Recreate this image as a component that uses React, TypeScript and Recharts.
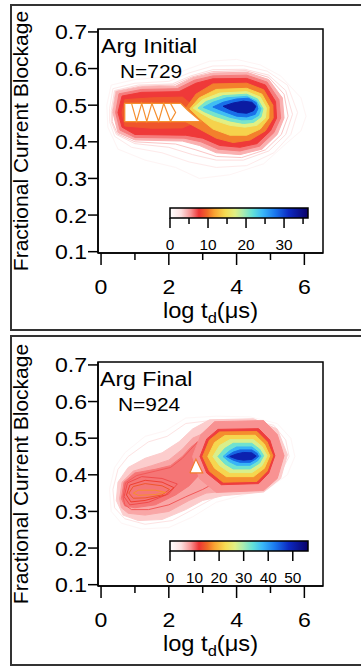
import React from 'react';
import { ScatterChart, Scatter, XAxis, YAxis, ReferenceArea } from 'recharts';

type Pt = [number, number];
type Kind = 'line' | 'fill' | 'hole' | 'stripes';

const FONT = '"Liberation Sans", Arial, Helvetica, sans-serif';
const TEXT_SX = 1.1;

// ---------- axes ----------
const xTicks = [0, 1, 2, 3, 4, 5, 6];
const xLabelTicks = [0, 2, 4, 6];
const yTicks = [0.1, 0.2, 0.3, 0.4, 0.5, 0.6, 0.7];
const X_DOMAIN: [number, number] = [-0.09, 6.55];
const Y_DOMAIN: [number, number] = [0.0964, 0.708];

// ---------- colour map (fraction of colour-bar max -> colour) ----------
const cmapPositions = [0, 0.08, 0.15, 0.21, 0.27, 0.32, 0.4, 0.47, 0.53, 0.6, 0.67, 0.76, 0.86, 1];
const cmapColors = ['#ffffff', '#fde0e0', '#f89494', '#ee3434', '#f06a28', '#f8a232', '#f6dc52', '#e2f084', '#aaecb0', '#62e0d8', '#3ab8f8', '#1a78ee', '#0c2ac2', '#0a0068'];

// ---------- Arg Initial ----------
const initialTitle = 'Arg Initial';
const initialCount = 'N=729';
const initialColorMax = 36.3;
const initialColorTicks = [0, 5, 10, 15, 20, 25, 30, 35];
const initialColorLabels = [0, 10, 20, 30];

const initialLine1: Pt[] = [[0.17, 0.5], [0.3, 0.555], [1.0, 0.57], [2.0, 0.578], [2.6, 0.6], [3.2, 0.62], [4.0, 0.625], [4.7, 0.61], [5.3, 0.58], [5.9, 0.52], [6.05, 0.47], [5.9, 0.43], [5.4, 0.39], [4.8, 0.34], [3.8, 0.31], [2.9, 0.3], [2.2, 0.33], [1.3, 0.35], [0.5, 0.38], [0.2, 0.44]];
const initialLine2: Pt[] = [[0.25, 0.49], [0.35, 0.545], [1.0, 0.56], [2.0, 0.565], [2.6, 0.588], [3.3, 0.607], [4.2, 0.608], [4.9, 0.593], [5.5, 0.555], [5.8, 0.48], [5.6, 0.42], [5.1, 0.37], [4.3, 0.335], [3.4, 0.33], [2.6, 0.345], [1.8, 0.37], [0.9, 0.385], [0.4, 0.415], [0.25, 0.455]];
const initialLine3: Pt[] = [[0.3, 0.485], [0.4, 0.54], [1.1, 0.555], [2.1, 0.558], [2.65, 0.58], [3.3, 0.597], [4.25, 0.598], [4.95, 0.582], [5.45, 0.54], [5.65, 0.475], [5.45, 0.42], [4.95, 0.375], [4.2, 0.35], [3.4, 0.35], [2.7, 0.365], [2.0, 0.385], [1.0, 0.395], [0.45, 0.42], [0.3, 0.455]];
const initialLine4: Pt[] = [[0.33, 0.482], [0.43, 0.538], [1.15, 0.552], [2.15, 0.555], [2.68, 0.577], [3.3, 0.592], [4.28, 0.594], [4.95, 0.576], [5.4, 0.53], [5.52, 0.47], [5.32, 0.42], [4.85, 0.378], [4.15, 0.357], [3.4, 0.36], [2.8, 0.378], [2.2, 0.394], [1.0, 0.4], [0.48, 0.422], [0.33, 0.455]];
const initialFill1: Pt[] = [[0.35, 0.48], [0.45, 0.537], [1.2, 0.55], [2.2, 0.552], [2.7, 0.575], [3.3, 0.588], [4.3, 0.59], [4.95, 0.57], [5.35, 0.52], [5.4, 0.465], [5.2, 0.42], [4.75, 0.38], [4.1, 0.365], [3.4, 0.37], [2.9, 0.39], [2.4, 0.402], [1.0, 0.405], [0.5, 0.425]];
const initialFill2: Pt[] = [[0.43, 0.48], [0.53, 0.531], [1.2, 0.543], [2.25, 0.545], [2.75, 0.568], [3.3, 0.58], [4.3, 0.582], [4.9, 0.563], [5.25, 0.515], [5.3, 0.465], [5.1, 0.425], [4.68, 0.388], [4.1, 0.375], [3.45, 0.38], [2.95, 0.4], [2.45, 0.41], [1.0, 0.412], [0.56, 0.432]];
const initialFill3: Pt[] = [[0.5, 0.48], [0.62, 0.525], [1.2, 0.535], [2.3, 0.537], [2.8, 0.56], [3.3, 0.572], [4.3, 0.573], [4.85, 0.555], [5.15, 0.51], [5.18, 0.465], [5.0, 0.43], [4.6, 0.395], [4.1, 0.385], [3.5, 0.39], [3.0, 0.41], [2.5, 0.418], [1.0, 0.42], [0.62, 0.44]];
const initialFill4: Pt[] = [[0.62, 0.48], [0.7, 0.515], [1.5, 0.52], [2.4, 0.522], [2.7, 0.5], [2.7, 0.45], [2.4, 0.438], [1.5, 0.437], [0.7, 0.443]];
const initialFill5: Pt[] = [[2.45, 0.485], [2.8, 0.53], [3.3, 0.558], [4.3, 0.56], [4.8, 0.542], [5.07, 0.5], [5.08, 0.465], [4.85, 0.43], [4.4, 0.405], [3.9, 0.398], [3.4, 0.41], [2.9, 0.435], [2.5, 0.455]];
const initialHole: Pt[] = [[0.7, 0.455], [0.7, 0.505], [2.35, 0.505], [2.55, 0.487], [2.95, 0.455]];
const initialHoleStripes: Pt[] = [[0.9, 0.505], [1.05, 0.456], [1.2, 0.505], [1.35, 0.456], [1.5, 0.505], [1.7, 0.456], [1.85, 0.505], [2.05, 0.456], [2.2, 0.48], [2.05, 0.505]];
const initialFill6: Pt[] = [[2.62, 0.49], [2.9, 0.52], [3.4, 0.543], [4.3, 0.546], [4.75, 0.53], [4.96, 0.495], [4.95, 0.465], [4.7, 0.435], [4.3, 0.418], [3.8, 0.418], [3.3, 0.435], [2.9, 0.465]];
const initialFill7: Pt[] = [[2.72, 0.492], [3.0, 0.515], [3.5, 0.533], [4.3, 0.537], [4.7, 0.522], [4.88, 0.492], [4.85, 0.465], [4.6, 0.445], [4.25, 0.44], [3.8, 0.445], [3.3, 0.46], [2.95, 0.478]];
const initialFill8: Pt[] = [[2.86, 0.492], [3.1, 0.51], [3.6, 0.526], [4.3, 0.53], [4.62, 0.517], [4.78, 0.49], [4.72, 0.468], [4.5, 0.453], [4.2, 0.45], [3.8, 0.457], [3.35, 0.47], [3.05, 0.482]];
const initialFill9: Pt[] = [[3.02, 0.494], [3.3, 0.508], [3.7, 0.52], [4.3, 0.524], [4.58, 0.512], [4.72, 0.49], [4.65, 0.472], [4.45, 0.461], [4.15, 0.46], [3.8, 0.467], [3.4, 0.48]];
const initialFill10: Pt[] = [[3.3, 0.495], [3.6, 0.508], [4.0, 0.517], [4.35, 0.519], [4.58, 0.507], [4.63, 0.49], [4.55, 0.475], [4.3, 0.468], [4.0, 0.47], [3.65, 0.482]];
const initialFill11: Pt[] = [[3.6, 0.497], [3.9, 0.506], [4.2, 0.511], [4.45, 0.508], [4.57, 0.497], [4.5, 0.485], [4.3, 0.478], [4.05, 0.48], [3.8, 0.488]];

const initialContours: Pt[][] = [initialLine1, initialLine2, initialLine3, initialLine4, initialFill1, initialFill2, initialFill3, initialFill4, initialFill5, initialHole, initialHoleStripes, initialFill6, initialFill7, initialFill8, initialFill9, initialFill10, initialFill11];
const initialLevels = [1, 2, 3, 3.8, 4.5, 6, 7.5, 9, 10.5, 11, 11, 14, 17, 21, 24, 28, 33];
const initialKinds: Kind[] = ['line', 'line', 'line', 'line', 'fill', 'fill', 'fill', 'fill', 'fill', 'hole', 'stripes', 'fill', 'fill', 'fill', 'fill', 'fill', 'fill'];

// ---------- Arg Final ----------
const finalTitle = 'Arg Final';
const finalCount = 'N=924';
const finalColorMax = 56.2;
const finalColorTicks = [0, 10, 20, 30, 40, 50];
const finalColorLabels = [0, 10, 20, 30, 40, 50];

const finalLine1: Pt[] = [[0.25, 0.36], [0.4, 0.42], [0.7, 0.46], [1.3, 0.505], [1.9, 0.52], [2.5, 0.555], [3.4, 0.56], [4.4, 0.558], [5.2, 0.54], [5.6, 0.5], [5.72, 0.45], [5.5, 0.4], [4.9, 0.36], [4.2, 0.345], [3.4, 0.325], [2.7, 0.285], [2.0, 0.256], [1.2, 0.252], [0.6, 0.268], [0.3, 0.3]];
const finalLine2: Pt[] = [[0.35, 0.36], [0.5, 0.415], [0.8, 0.45], [1.4, 0.49], [1.95, 0.505], [2.5, 0.54], [3.4, 0.55], [4.4, 0.55], [5.1, 0.535], [5.45, 0.495], [5.55, 0.45], [5.3, 0.405], [4.8, 0.37], [4.2, 0.36], [3.5, 0.345], [2.8, 0.31], [2.1, 0.275], [1.3, 0.265], [0.7, 0.28], [0.4, 0.31]];
const finalFillA: Pt[] = [[0.45, 0.33], [0.5, 0.38], [0.8, 0.42], [1.3, 0.445], [1.8, 0.46], [2.3, 0.49], [2.7, 0.525], [3.2, 0.55], [4.5, 0.553], [5.2, 0.525], [5.5, 0.455], [5.3, 0.39], [4.8, 0.353], [3.6, 0.343], [3.0, 0.33], [2.5, 0.305], [1.8, 0.278], [1.1, 0.275], [0.65, 0.29]];
const finalFillB: Pt[] = [[0.55, 0.335], [0.62, 0.38], [0.95, 0.41], [1.5, 0.425], [2.0, 0.44], [2.4, 0.47], [2.7, 0.5], [2.95, 0.51], [3.4, 0.54], [4.8, 0.543], [5.2, 0.505], [5.38, 0.452], [5.2, 0.395], [4.8, 0.36], [3.6, 0.355], [3.1, 0.35], [2.6, 0.33], [2.0, 0.3], [1.3, 0.29], [0.8, 0.295], [0.6, 0.31]];
const finalFillC: Pt[] = [[0.6, 0.335], [0.68, 0.38], [1.0, 0.405], [1.6, 0.415], [2.05, 0.425], [2.4, 0.45], [2.65, 0.475], [2.85, 0.49], [3.0, 0.46], [3.0, 0.41], [2.6, 0.37], [2.2, 0.345], [1.6, 0.318], [1.0, 0.31], [0.7, 0.315]];
const finalRidge: Pt[] = [[0.65, 0.34], [0.72, 0.378], [1.05, 0.398], [1.6, 0.41], [2.05, 0.42], [2.4, 0.445], [2.65, 0.47], [2.85, 0.49], [3.0, 0.47], [3.0, 0.41], [3.3, 0.375], [3.0, 0.36], [2.5, 0.34], [2.0, 0.318], [1.4, 0.305], [0.9, 0.305], [0.7, 0.318]];
const finalFill1: Pt[] = [[2.7, 0.45], [2.95, 0.51], [3.35, 0.545], [4.8, 0.548], [5.2, 0.51], [5.4, 0.452], [5.2, 0.39], [4.8, 0.357], [3.4, 0.352], [2.9, 0.39]];
const finalFill2: Pt[] = [[2.92, 0.45], [3.12, 0.498], [3.45, 0.524], [4.65, 0.526], [4.98, 0.495], [5.13, 0.452], [4.95, 0.405], [4.65, 0.376], [3.55, 0.373], [3.12, 0.405]];
const finalHole: Pt[] = [[2.62, 0.405], [2.8, 0.443], [3.0, 0.405]];
const finalFill3: Pt[] = [[3.0, 0.45], [3.2, 0.495], [3.5, 0.517], [4.6, 0.518], [4.9, 0.49], [5.07, 0.452], [4.9, 0.41], [4.6, 0.382], [3.6, 0.38], [3.2, 0.41]];
const finalFill4: Pt[] = [[3.15, 0.45], [3.35, 0.488], [3.65, 0.507], [4.55, 0.508], [4.82, 0.484], [4.98, 0.452], [4.82, 0.418], [4.5, 0.395], [3.7, 0.395], [3.35, 0.418]];
const finalFill5: Pt[] = [[3.3, 0.45], [3.5, 0.48], [3.8, 0.496], [4.5, 0.496], [4.75, 0.477], [4.9, 0.452], [4.75, 0.425], [4.45, 0.406], [3.8, 0.406], [3.5, 0.425]];
const finalFill6: Pt[] = [[3.45, 0.45], [3.65, 0.472], [3.9, 0.486], [4.45, 0.486], [4.68, 0.47], [4.8, 0.452], [4.68, 0.432], [4.4, 0.416], [3.9, 0.416], [3.65, 0.43]];
const finalFill7: Pt[] = [[3.6, 0.45], [3.8, 0.466], [4.0, 0.476], [4.45, 0.476], [4.62, 0.464], [4.72, 0.451], [4.62, 0.438], [4.4, 0.426], [4.0, 0.426], [3.78, 0.436]];
const finalFill8: Pt[] = [[3.7, 0.45], [3.9, 0.462], [4.1, 0.468], [4.45, 0.468], [4.6, 0.459], [4.65, 0.45], [4.55, 0.442], [4.4, 0.434], [4.1, 0.434], [3.9, 0.44]];
const finalFill9: Pt[] = [[3.8, 0.45], [4.0, 0.457], [4.2, 0.461], [4.45, 0.46], [4.58, 0.451], [4.45, 0.442], [4.2, 0.44], [4.0, 0.443]];
const finalRing1: Pt[] = [[0.68, 0.34], [0.78, 0.378], [1.2, 0.395], [1.8, 0.39], [2.25, 0.375], [2.0, 0.348], [1.4, 0.325], [0.85, 0.318]];
const finalRing2: Pt[] = [[0.75, 0.345], [0.85, 0.372], [1.3, 0.385], [1.8, 0.38], [2.15, 0.365], [1.9, 0.345], [1.3, 0.33], [0.88, 0.326]];
const finalRing3: Pt[] = [[0.82, 0.35], [0.95, 0.368], [1.3, 0.376], [1.8, 0.37], [2.02, 0.36], [1.8, 0.345], [1.3, 0.337], [0.95, 0.336]];
const finalRing4: Pt[] = [[0.95, 0.35], [1.1, 0.358], [1.6, 0.358], [1.9, 0.352], [1.6, 0.346], [1.1, 0.344]];

const finalContours: Pt[][] = [finalLine1, finalLine2, finalFillA, finalFillB, finalFillC, finalRidge, finalFill1, finalFill2, finalHole, finalFill3, finalFill4, finalFill5, finalFill6, finalFill7, finalFill8, finalFill9, finalRing1, finalRing2, finalRing3, finalRing4];
const finalLevels = [1.5, 4, 5.5, 7.5, 9.5, 10.5, 8.5, 11.5, 16, 17, 22, 27, 33, 38, 44, 50, 11, 12.5, 14, 17];
const finalKinds: Kind[] = ['line', 'line', 'fill', 'fill', 'fill', 'line', 'fill', 'fill', 'hole', 'fill', 'fill', 'fill', 'fill', 'fill', 'fill', 'fill', 'line', 'line', 'line', 'line'];

// ---------- helpers ----------
function hexToRgb(h: string) {
  const n = parseInt(h.slice(1), 16);
  return [(n >> 16) & 255, (n >> 8) & 255, n & 255];
}
function colorAt(f: number) {
  const t = Math.max(0, Math.min(1, f));
  for (let i = 1; i < cmapPositions.length; i++) {
    if (t <= cmapPositions[i]) {
      const a = cmapPositions[i - 1];
      const b = cmapPositions[i];
      const u = (t - a) / (b - a);
      const c0 = hexToRgb(cmapColors[i - 1]);
      const c1 = hexToRgb(cmapColors[i]);
      const c = c0.map((v, k) => Math.round(v + (c1[k] - v) * u));
      return `rgb(${c[0]},${c[1]},${c[2]})`;
    }
  }
  return cmapColors[cmapColors.length - 1];
}
const closed = (pts: Pt[]) => [...pts, pts[0]].map(([x, y]) => ({ x, y }));
const open = (pts: Pt[]) => pts.map(([x, y]) => ({ x, y }));
const Empty = () => <g />;

function sText(x: number, y: number, s: string | number, size: number, anchor: 'start' | 'middle' | 'end', key?: string | number) {
  return (
    <text key={key} transform={`translate(${x},${y}) scale(${TEXT_SX},1)`} textAnchor={anchor} fontFamily={FONT} fontSize={size} fill="#000">
      {s}
    </text>
  );
}

const YTick = (props: any) => {
  const { x, y, payload } = props;
  return sText(x, y + 7.5, Number(payload.value).toFixed(1), 21, 'end');
};

const XTick = (props: any) => {
  const { x, y, payload } = props;
  const v = payload.value;
  const major = xLabelTicks.includes(v);
  return (
    <g>
      <line x1={x} x2={x} y1={y} y2={y + (major ? 12 : 7)} stroke="#000" strokeWidth={1.5} />
      {major ? sText(x, y + 41, v, 21, 'middle') : null}
    </g>
  );
};

const XLabel = (props: any) => {
  const { x, y, width } = props.viewBox;
  return (
    <text transform={`translate(${x + width / 2},${y + 65}) scale(${TEXT_SX},1)`} textAnchor="middle" fontFamily={FONT} fontSize={21.5} fill="#000">
      log t<tspan fontSize={15} dy={5}>d</tspan>
      <tspan dy={-5}>(μs)</tspan>
    </text>
  );
};

const YLabel = (props: any) => {
  const { y, height } = props.viewBox;
  return (
    <text transform={`translate(28,${y + height / 2}) rotate(-90)`} textAnchor="middle" fontFamily={FONT} fontSize={21} fill="#000">
      Fractional Current Blockage
    </text>
  );
};

type PanelProps = {
  top: number;
  colorMax: number;
  contours: Pt[][];
  levels: number[];
  kinds: Kind[];
};

function DensityChart(p: PanelProps) {
  const series = p.contours.map((pts, i) => {
    const c = colorAt(p.levels[i] / p.colorMax);
    const kind = p.kinds[i];
    let line: any;
    if (kind === 'line') line = { stroke: c, strokeWidth: 1, fill: 'none' };
    else if (kind === 'fill') line = { stroke: c, strokeWidth: 1, fill: c };
    else if (kind === 'hole') line = { stroke: c, strokeWidth: 1.2, fill: '#ffffff' };
    else line = { stroke: c, strokeWidth: 1.2, fill: 'none' };
    return (
      <Scatter
        key={`s${i}`}
        data={kind === 'stripes' ? open(pts) : closed(pts)}
        shape={Empty}
        isAnimationActive={false}
        legendType="none"
        lineType="joint"
        lineJointType="linear"
        line={line}
      />
    );
  });

  return (
    <div style={{ position: 'absolute', left: 0, top: p.top }}>
      <ScatterChart width={361} height={333} margin={{ top: 29, right: 38, bottom: 0, left: 0 }}>
        <XAxis
          type="number"
          dataKey="x"
          domain={X_DOMAIN}
          ticks={xTicks}
          interval={0}
          allowDataOverflow
          height={80}
          tickSize={0}
          tickMargin={0}
          tickLine={false}
          axisLine={{ stroke: '#000', strokeWidth: 1.5 }}
          tick={XTick}
          label={{ content: XLabel }}
        />
        <YAxis
          type="number"
          dataKey="y"
          domain={Y_DOMAIN}
          ticks={yTicks}
          interval={0}
          allowDataOverflow
          width={98}
          tickSize={10}
          tickMargin={1}
          tickLine={{ stroke: '#000', strokeWidth: 1.5 }}
          axisLine={{ stroke: '#000', strokeWidth: 1.5 }}
          tick={YTick}
          label={{ content: YLabel }}
        />
        {series}
        <ReferenceArea x1={X_DOMAIN[0]} x2={X_DOMAIN[1]} y1={Y_DOMAIN[0]} y2={Y_DOMAIN[1]} fill="none" fillOpacity={0} stroke="#000" strokeWidth={1.5} ifOverflow="visible" />
      </ScatterChart>
    </div>
  );
}

function ColorBar({ top, max, ticks, labels, gradId }: { top: number; max: number; ticks: number[]; labels: number[]; gradId: string }) {
  const CbTick = (props: any) => {
    const { x, y, payload } = props;
    const v = payload.value;
    const major = labels.includes(v);
    return (
      <g>
        <line x1={x} x2={x} y1={y} y2={y + (major ? 10 : 6)} stroke="#000" strokeWidth={1.5} />
        {major ? sText(x, y + 32, v, 14, 'middle') : null}
      </g>
    );
  };
  return (
    <div style={{ position: 'absolute', left: 0, top }}>
      <ScatterChart width={361} height={70} margin={{ top: 10, right: 53, bottom: 0, left: 170 }}>
        <defs>
          <linearGradient id={gradId} x1="0" y1="0" x2="1" y2="0">
            {cmapPositions.map((pos, i) => (
              <stop key={i} offset={pos} stopColor={cmapColors[i]} />
            ))}
          </linearGradient>
        </defs>
        <XAxis type="number" dataKey="x" domain={[0, max]} ticks={ticks} interval={0} allowDataOverflow height={50} tickSize={0} tickMargin={0} tickLine={false} axisLine={false} tick={CbTick} />
        <YAxis type="number" dataKey="y" domain={[0, 1]} allowDataOverflow hide />
        <Scatter data={ticks.map((v) => ({ x: v, y: 0.5 }))} shape={Empty} isAnimationActive={false} legendType="none" />
        <ReferenceArea x1={0} x2={max} y1={0} y2={1} fill={`url(#${gradId})`} fillOpacity={1} stroke="#000" strokeWidth={1.5} ifOverflow="visible" />
      </ScatterChart>
    </div>
  );
}

export default function App() {
  return (
    <div style={{ position: 'absolute', left: 0, top: 0, width: 361, height: 667, background: '#fff', overflow: 'hidden', fontFamily: FONT }}>
      <div style={{ position: 'absolute', left: 10, top: 4, width: 380, height: 327, border: '2px solid #333', boxSizing: 'border-box' }} />
      <div style={{ position: 'absolute', left: 10, top: 335, width: 380, height: 331, border: '2px solid #333', boxSizing: 'border-box' }} />

      <DensityChart top={0} colorMax={initialColorMax} contours={initialContours} levels={initialLevels} kinds={initialKinds} />
      <ColorBar top={198} max={initialColorMax} ticks={initialColorTicks} labels={initialColorLabels} gradId="cbInitial" />

      <DensityChart top={333} colorMax={finalColorMax} contours={finalContours} levels={finalLevels} kinds={finalKinds} />
      <ColorBar top={531} max={finalColorMax} ticks={finalColorTicks} labels={finalColorLabels} gradId="cbFinal" />

      <svg width={361} height={667} style={{ position: 'absolute', left: 0, top: 0, pointerEvents: 'none' }}>
        {sText(101, 53, initialTitle, 21, 'start')}
        {sText(120, 78, initialCount, 19, 'start')}
        {sText(100, 386, finalTitle, 21, 'start')}
        {sText(118, 411, finalCount, 19, 'start')}
      </svg>
    </div>
  );
}
